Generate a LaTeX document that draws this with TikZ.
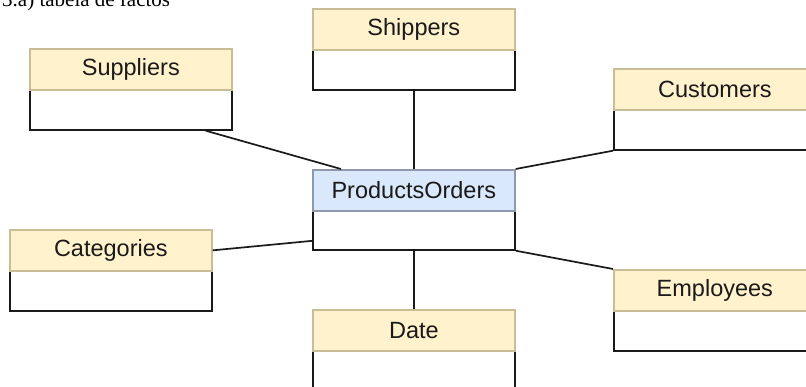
\documentclass[tikz,border=0pt]{standalone}
\usepackage{fontspec}
\setmainfont{Liberation Sans}
\newfontfamily\captionserif{Liberation Serif}
\definecolor{dimhead}{HTML}{FFF2CC}
\definecolor{dimedge}{HTML}{C9BD97}
\definecolor{facthead}{HTML}{DAE8FC}
\definecolor{factedge}{HTML}{8E9AAB}
\definecolor{inkline}{HTML}{1A1A1A}
\tikzset{
  tblhead/.style={draw=dimedge, fill=dimhead, line width=1.7pt,
    minimum width=202pt, minimum height=41pt, inner sep=0pt, anchor=north west,
    font=\fontsize{23.5}{26}\selectfont, text=inkline},
  facthd/.style={tblhead, draw=factedge, fill=facthead},
  tblbody/.style={draw=inkline, fill=white, line width=1.7pt,
    minimum width=202pt, minimum height=40pt, inner sep=0pt, anchor=north west},
  link/.style={draw=inkline, line width=1.7pt},
}
\begin{document}
\begin{tikzpicture}[x=1pt, y=-1pt]
  \useasboundingbox (0,0) rectangle (806,387);
  \clip (0,0) rectangle (806,387);
  \fill[white] (0,0) rectangle (806,387);

  % caption, partly above the top edge
  \node[anchor=base west, inner sep=0pt, font=\captionserif\fontsize{21}{24}\selectfont]
    (cap) at (2,7) {3.a) tabela de factos};

  % table bodies
  \node[tblbody] (supb)  at (29,89)   {};
  \node[tblbody] (shipb) at (312,49)  {};
  \node[tblbody] (pob)   at (312,209) {};
  \node[tblbody] (cusb)  at (613,109) {};
  \node[tblbody] (catb)  at (9,270)   {};
  \node[tblbody] (empb)  at (613,310) {};
  \node[tblbody] (dateb) at (312,349) {};

  % table headers
  \node[tblhead] (sup)  at (29,48)   {Suppliers};
  \node[tblhead] (ship) at (312,8)   {Shippers};
  \node[facthd]  (po)   at (312,169) {ProductsOrders};
  \node[tblhead] (cus)  at (613,68)  {Customers};
  \node[tblhead] (cat)  at (9,229)   {Categories};
  \node[tblhead] (emp)  at (613,269) {Employees};
  \node[tblhead] (date) at (312,309) {Date};

  % links from the fact table to each dimension
  \draw[link] ([xshift=-27pt]supb.south east) -- ([xshift=29pt]po.north west);
  \draw[link] (shipb.south) -- (po.north);
  \draw[link] (cusb.south west) -- (po.north east);
  \draw[link] (cat.east) -- ([yshift=-11pt]pob.west);
  \draw[link] (pob.south east) -- (emp.north west);
  \draw[link] (pob.south) -- (date.north);
\end{tikzpicture}
\end{document}
